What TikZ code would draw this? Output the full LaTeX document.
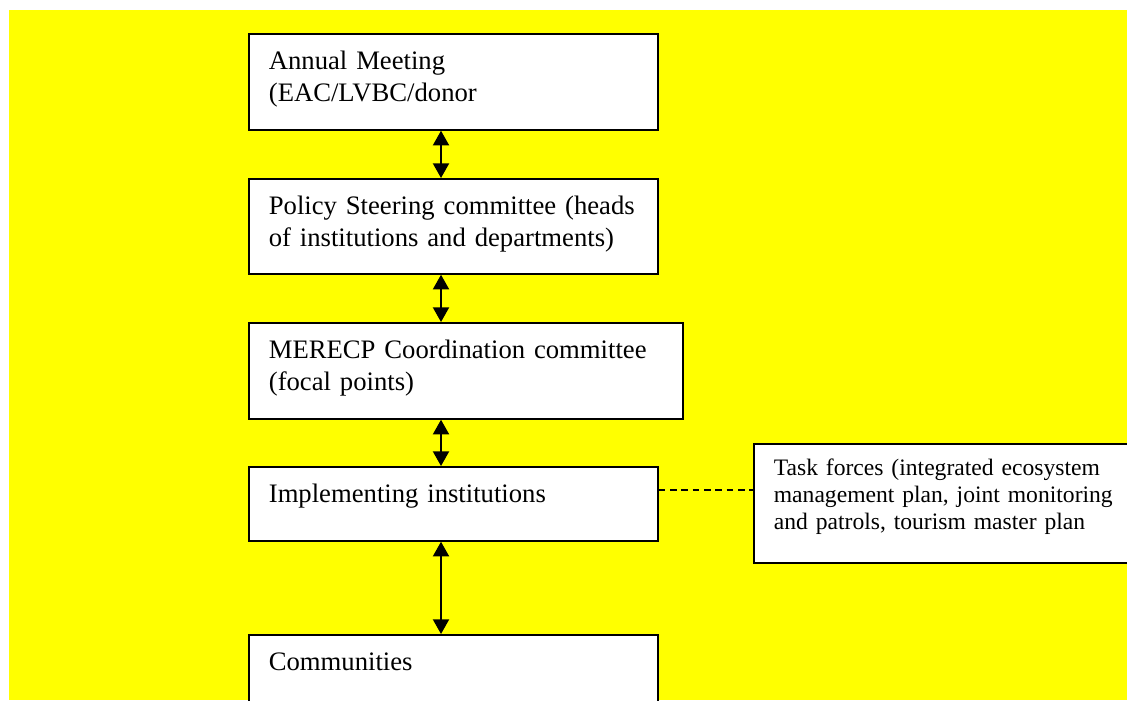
\documentclass[tikz,border=0pt]{standalone}
\usepackage{fontspec}
\setmainfont{Liberation Serif}
\usetikzlibrary{arrows.meta}
\definecolor{paper}{RGB}{255,255,0}

\begin{document}
\begin{tikzpicture}[
        x = 0.75pt, y = -0.75pt,
        box/.style = {draw, fill=white, line width=1.3pt, anchor=north west, align=left,
            inner xsep=15pt, inner ysep=12.5pt, text width=276.75pt, text height=14pt,
            font=\fontsize{20pt}{24pt}\selectfont},
        smallbox/.style = {box, inner ysep=11.4pt, text width=300pt, text height=12.5pt,
            font=\fontsize{17.7pt}{20pt}\selectfont},
        arrow/.style = {{Triangle[width=12pt,length=11pt]}-{Triangle[width=12pt,length=11pt]}, line width=1.5pt},
        link/.style = {dashed, line width=1pt, dash pattern=on 5pt off 3.5pt}
    ]
    
    \useasboundingbox (0,0) rectangle (1127,700);
    \clip (0,0) rectangle (1127,700);
    \fill[paper] (9,10) rectangle (1127,700);
    
    \node[box, text depth=33pt] (annual) at (248,33) {Annual Meeting\\(EAC/LVBC/donor};
    \node[box, text depth=32.25pt] (policy) at (248,178) {Policy Steering committee (heads\\of institutions and departments)};
    \node[box, text depth=33pt, text width=295.5pt] (merecp) at (248,322) {MERECP Coordination committee\\(focal points)};
    \node[box, text depth=16.5pt] (implementing) at (248,466) {Implementing institutions};
    \node[box, text depth=33pt] (communities) at (248,634) {Communities};
    \node[smallbox, text depth=54pt] (taskforces) at (753,443) {Task forces (integrated ecosystem\\management plan, joint monitoring\\and patrols, tourism master plan};
    
    \coordinate (axis) at (441,0);
    \coordinate (dashlevel) at (0,490);
    
    % Arrows
    \draw[arrow] (annual.south -| axis) -- (policy.north -| axis);
    \draw[arrow] (policy.south -| axis) -- (merecp.north -| axis);
    \draw[arrow] (merecp.south -| axis) -- (implementing.north -| axis);
    \draw[arrow] (implementing.south -| axis) -- (communities.north -| axis);
    \draw[link] (implementing.east |- dashlevel) -- (taskforces.west |- dashlevel);
    
\end{tikzpicture}
\end{document}
